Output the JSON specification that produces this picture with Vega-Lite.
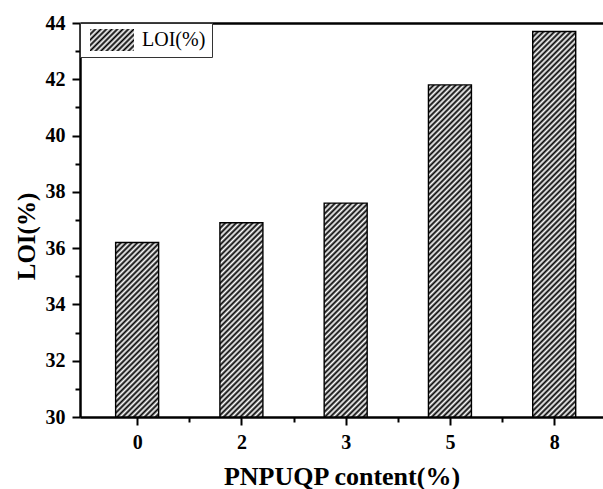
{
  "$schema": "https://vega.github.io/schema/vega-lite/v6.json",
  "width": 523,
  "height": 394,
  "autosize": {"type": "none"},
  "padding": {"left": 80, "top": 23, "right": 0, "bottom": 72},
  "background": "white",
  "config": {"view": {"stroke": null}, "font": "Liberation Serif"},
  "data": {"values": [
    {"content": "0", "idx": 0, "loi": 36.2, "series": "LOI(%)"},
    {"content": "2", "idx": 1, "loi": 36.9, "series": "LOI(%)"},
    {"content": "3", "idx": 2, "loi": 37.6, "series": "LOI(%)"},
    {"content": "5", "idx": 3, "loi": 41.8, "series": "LOI(%)"},
    {"content": "8", "idx": 4, "loi": 43.7, "series": "LOI(%)"}
  ]},
  "resolve": {"axis": {"x": "independent"}},
  "layer": [
    {
      "mark": {"type": "bar", "width": 43, "stroke": "black", "strokeWidth": 1.4},
      "encoding": {
        "x": {
          "field": "idx", "type": "quantitative",
          "scale": {"domain": [-0.5, 4.42], "nice": false, "zero": false},
          "axis": {
            "orient": "bottom",
            "values": [0, 0.5, 1, 1.5, 2, 2.5, 3, 3.5, 4],
            "labelExpr": "datum.value % 1 === 0 ? ['0','2','3','5','8'][datum.value] : ''",
            "grid": false,
            "domainColor": "black", "domainWidth": 2.5,
            "tickColor": "black", "tickWidth": 2,
            "tickSize": {"condition": {"test": "datum.value % 1 === 0", "value": 8}, "value": 5},
            "labelFont": "Liberation Serif", "labelFontSize": 20, "labelFontWeight": "bold", "labelColor": "black",
            "labelPadding": 7, "labelOverlap": false, "labelFlush": false,
            "title": "PNPUQP content(%)",
            "titleFont": "Liberation Serif", "titleFontSize": 26, "titleFontWeight": "bold", "titleColor": "black",
            "titlePadding": 11
          }
        },
        "y": {
          "field": "loi", "type": "quantitative",
          "scale": {"domain": [30, 44], "nice": false, "zero": false},
          "axis": {
            "values": [30, 31, 32, 33, 34, 35, 36, 37, 38, 39, 40, 41, 42, 43, 44],
            "labelExpr": "datum.value % 2 === 0 ? datum.label : ''",
            "grid": false,
            "domainColor": "black", "domainWidth": 2.5,
            "tickColor": "black", "tickWidth": 2,
            "tickSize": {"condition": {"test": "datum.value % 2 === 0", "value": 8}, "value": 5},
            "labelFont": "Liberation Serif", "labelFontSize": 20, "labelFontWeight": "bold", "labelColor": "black",
            "labelPadding": 7, "labelOverlap": false, "labelFlush": false,
            "title": "LOI(%)",
            "titleFont": "Liberation Serif", "titleFontSize": 25, "titleFontWeight": "bold", "titleColor": "black",
            "titlePadding": 6, "titleY": 213
          }
        },
        "y2": {"datum": 30},
        "stroke": {"value": "black"},
        "strokeWidth": {"value": 1.4},
        "opacity": {
          "field": "series", "type": "nominal",
          "scale": {"range": [1]},
          "legend": {
            "title": null, "orient": "top-left", "offset": 0, "padding": 6,
            "strokeColor": "#333", "fillColor": "white",
            "clipHeight": 22, "symbolType": "M-1,-0.5H1V0.5H-1Z", "symbolSize": 1936, "symbolOffset": 3,
            "symbolStrokeColor": "black", "symbolStrokeWidth": 1.5,
            "labelOffset": 7, "labelFont": "Liberation Serif", "labelFontSize": 20, "labelColor": "black",
            "encode": {"symbols": {"update": {"stroke": {"value": "black"}, "strokeWidth": {"value": 1.5}}}}
          }
        },
        "fill": {
          "condition": [
            {"test": "datum.idx === 0", "value": {"gradient": "linear", "x1": 0, "y1": 0, "x2": 0.58584, "y2": 2.37726, "stops": [
{"offset":0,"color":"#000"},{"offset":0.00625,"color":"#fff"},{"offset":0.0125,"color":"#000"},{"offset":0.01875,"color":"#fff"},{"offset":0.025,"color":"#000"},{"offset":0.03125,"color":"#fff"},{"offset":0.0375,"color":"#000"},{"offset":0.04375,"color":"#fff"},{"offset":0.05,"color":"#000"},{"offset":0.05625,"color":"#fff"},{"offset":0.0625,"color":"#000"},{"offset":0.06875,"color":"#fff"},{"offset":0.075,"color":"#000"},{"offset":0.08125,"color":"#fff"},{"offset":0.0875,"color":"#000"},{"offset":0.09375,"color":"#fff"},
{"offset":0.1,"color":"#000"},{"offset":0.10625,"color":"#fff"},{"offset":0.1125,"color":"#000"},{"offset":0.11875,"color":"#fff"},{"offset":0.125,"color":"#000"},{"offset":0.13125,"color":"#fff"},{"offset":0.1375,"color":"#000"},{"offset":0.14375,"color":"#fff"},{"offset":0.15,"color":"#000"},{"offset":0.15625,"color":"#fff"},{"offset":0.1625,"color":"#000"},{"offset":0.16875,"color":"#fff"},{"offset":0.175,"color":"#000"},{"offset":0.18125,"color":"#fff"},{"offset":0.1875,"color":"#000"},{"offset":0.19375,"color":"#fff"},
{"offset":0.2,"color":"#000"},{"offset":0.20625,"color":"#fff"},{"offset":0.2125,"color":"#000"},{"offset":0.21875,"color":"#fff"},{"offset":0.225,"color":"#000"},{"offset":0.23125,"color":"#fff"},{"offset":0.2375,"color":"#000"},{"offset":0.24375,"color":"#fff"},{"offset":0.25,"color":"#000"},{"offset":0.25625,"color":"#fff"},{"offset":0.2625,"color":"#000"},{"offset":0.26875,"color":"#fff"},{"offset":0.275,"color":"#000"},{"offset":0.28125,"color":"#fff"},{"offset":0.2875,"color":"#000"},{"offset":0.29375,"color":"#fff"},
{"offset":0.3,"color":"#000"},{"offset":0.30625,"color":"#fff"},{"offset":0.3125,"color":"#000"},{"offset":0.31875,"color":"#fff"},{"offset":0.325,"color":"#000"},{"offset":0.33125,"color":"#fff"},{"offset":0.3375,"color":"#000"},{"offset":0.34375,"color":"#fff"},{"offset":0.35,"color":"#000"},{"offset":0.35625,"color":"#fff"},{"offset":0.3625,"color":"#000"},{"offset":0.36875,"color":"#fff"},{"offset":0.375,"color":"#000"},{"offset":0.38125,"color":"#fff"},{"offset":0.3875,"color":"#000"},{"offset":0.39375,"color":"#fff"},
{"offset":0.4,"color":"#000"},{"offset":0.40625,"color":"#fff"},{"offset":0.4125,"color":"#000"},{"offset":0.41875,"color":"#fff"},{"offset":0.425,"color":"#000"},{"offset":0.43125,"color":"#fff"},{"offset":0.4375,"color":"#000"},{"offset":0.44375,"color":"#fff"},{"offset":0.45,"color":"#000"},{"offset":0.45625,"color":"#fff"},{"offset":0.4625,"color":"#000"},{"offset":0.46875,"color":"#fff"},{"offset":0.475,"color":"#000"},{"offset":0.48125,"color":"#fff"},{"offset":0.4875,"color":"#000"},{"offset":0.49375,"color":"#fff"},
{"offset":0.5,"color":"#000"}
            ]}},
            {"test": "datum.idx === 1", "value": {"gradient": "linear", "x1": 0, "y1": 0, "x2": 0.47828, "y2": 2.15991, "stops": [
{"offset":0,"color":"#000"},{"offset":0.00625,"color":"#fff"},{"offset":0.0125,"color":"#000"},{"offset":0.01875,"color":"#fff"},{"offset":0.025,"color":"#000"},{"offset":0.03125,"color":"#fff"},{"offset":0.0375,"color":"#000"},{"offset":0.04375,"color":"#fff"},{"offset":0.05,"color":"#000"},{"offset":0.05625,"color":"#fff"},{"offset":0.0625,"color":"#000"},{"offset":0.06875,"color":"#fff"},{"offset":0.075,"color":"#000"},{"offset":0.08125,"color":"#fff"},{"offset":0.0875,"color":"#000"},{"offset":0.09375,"color":"#fff"},
{"offset":0.1,"color":"#000"},{"offset":0.10625,"color":"#fff"},{"offset":0.1125,"color":"#000"},{"offset":0.11875,"color":"#fff"},{"offset":0.125,"color":"#000"},{"offset":0.13125,"color":"#fff"},{"offset":0.1375,"color":"#000"},{"offset":0.14375,"color":"#fff"},{"offset":0.15,"color":"#000"},{"offset":0.15625,"color":"#fff"},{"offset":0.1625,"color":"#000"},{"offset":0.16875,"color":"#fff"},{"offset":0.175,"color":"#000"},{"offset":0.18125,"color":"#fff"},{"offset":0.1875,"color":"#000"},{"offset":0.19375,"color":"#fff"},
{"offset":0.2,"color":"#000"},{"offset":0.20625,"color":"#fff"},{"offset":0.2125,"color":"#000"},{"offset":0.21875,"color":"#fff"},{"offset":0.225,"color":"#000"},{"offset":0.23125,"color":"#fff"},{"offset":0.2375,"color":"#000"},{"offset":0.24375,"color":"#fff"},{"offset":0.25,"color":"#000"},{"offset":0.25625,"color":"#fff"},{"offset":0.2625,"color":"#000"},{"offset":0.26875,"color":"#fff"},{"offset":0.275,"color":"#000"},{"offset":0.28125,"color":"#fff"},{"offset":0.2875,"color":"#000"},{"offset":0.29375,"color":"#fff"},
{"offset":0.3,"color":"#000"},{"offset":0.30625,"color":"#fff"},{"offset":0.3125,"color":"#000"},{"offset":0.31875,"color":"#fff"},{"offset":0.325,"color":"#000"},{"offset":0.33125,"color":"#fff"},{"offset":0.3375,"color":"#000"},{"offset":0.34375,"color":"#fff"},{"offset":0.35,"color":"#000"},{"offset":0.35625,"color":"#fff"},{"offset":0.3625,"color":"#000"},{"offset":0.36875,"color":"#fff"},{"offset":0.375,"color":"#000"},{"offset":0.38125,"color":"#fff"},{"offset":0.3875,"color":"#000"},{"offset":0.39375,"color":"#fff"},
{"offset":0.4,"color":"#000"},{"offset":0.40625,"color":"#fff"},{"offset":0.4125,"color":"#000"},{"offset":0.41875,"color":"#fff"},{"offset":0.425,"color":"#000"},{"offset":0.43125,"color":"#fff"},{"offset":0.4375,"color":"#000"},{"offset":0.44375,"color":"#fff"},{"offset":0.45,"color":"#000"},{"offset":0.45625,"color":"#fff"},{"offset":0.4625,"color":"#000"},{"offset":0.46875,"color":"#fff"},{"offset":0.475,"color":"#000"},{"offset":0.48125,"color":"#fff"},{"offset":0.4875,"color":"#000"},{"offset":0.49375,"color":"#fff"},
{"offset":0.5,"color":"#000"},{"offset":0.50625,"color":"#fff"},{"offset":0.5125,"color":"#000"},{"offset":0.51875,"color":"#fff"},{"offset":0.525,"color":"#000"},{"offset":0.53125,"color":"#fff"},{"offset":0.5375,"color":"#000"},{"offset":0.54375,"color":"#fff"}
            ]}},
            {"test": "datum.idx === 2", "value": {"gradient": "linear", "x1": 0, "y1": 0, "x2": 0.3975, "y2": 1.97722, "stops": [
{"offset":0,"color":"#000"},{"offset":0.00625,"color":"#fff"},{"offset":0.0125,"color":"#000"},{"offset":0.01875,"color":"#fff"},{"offset":0.025,"color":"#000"},{"offset":0.03125,"color":"#fff"},{"offset":0.0375,"color":"#000"},{"offset":0.04375,"color":"#fff"},{"offset":0.05,"color":"#000"},{"offset":0.05625,"color":"#fff"},{"offset":0.0625,"color":"#000"},{"offset":0.06875,"color":"#fff"},{"offset":0.075,"color":"#000"},{"offset":0.08125,"color":"#fff"},{"offset":0.0875,"color":"#000"},{"offset":0.09375,"color":"#fff"},
{"offset":0.1,"color":"#000"},{"offset":0.10625,"color":"#fff"},{"offset":0.1125,"color":"#000"},{"offset":0.11875,"color":"#fff"},{"offset":0.125,"color":"#000"},{"offset":0.13125,"color":"#fff"},{"offset":0.1375,"color":"#000"},{"offset":0.14375,"color":"#fff"},{"offset":0.15,"color":"#000"},{"offset":0.15625,"color":"#fff"},{"offset":0.1625,"color":"#000"},{"offset":0.16875,"color":"#fff"},{"offset":0.175,"color":"#000"},{"offset":0.18125,"color":"#fff"},{"offset":0.1875,"color":"#000"},{"offset":0.19375,"color":"#fff"},
{"offset":0.2,"color":"#000"},{"offset":0.20625,"color":"#fff"},{"offset":0.2125,"color":"#000"},{"offset":0.21875,"color":"#fff"},{"offset":0.225,"color":"#000"},{"offset":0.23125,"color":"#fff"},{"offset":0.2375,"color":"#000"},{"offset":0.24375,"color":"#fff"},{"offset":0.25,"color":"#000"},{"offset":0.25625,"color":"#fff"},{"offset":0.2625,"color":"#000"},{"offset":0.26875,"color":"#fff"},{"offset":0.275,"color":"#000"},{"offset":0.28125,"color":"#fff"},{"offset":0.2875,"color":"#000"},{"offset":0.29375,"color":"#fff"},
{"offset":0.3,"color":"#000"},{"offset":0.30625,"color":"#fff"},{"offset":0.3125,"color":"#000"},{"offset":0.31875,"color":"#fff"},{"offset":0.325,"color":"#000"},{"offset":0.33125,"color":"#fff"},{"offset":0.3375,"color":"#000"},{"offset":0.34375,"color":"#fff"},{"offset":0.35,"color":"#000"},{"offset":0.35625,"color":"#fff"},{"offset":0.3625,"color":"#000"},{"offset":0.36875,"color":"#fff"},{"offset":0.375,"color":"#000"},{"offset":0.38125,"color":"#fff"},{"offset":0.3875,"color":"#000"},{"offset":0.39375,"color":"#fff"},
{"offset":0.4,"color":"#000"},{"offset":0.40625,"color":"#fff"},{"offset":0.4125,"color":"#000"},{"offset":0.41875,"color":"#fff"},{"offset":0.425,"color":"#000"},{"offset":0.43125,"color":"#fff"},{"offset":0.4375,"color":"#000"},{"offset":0.44375,"color":"#fff"},{"offset":0.45,"color":"#000"},{"offset":0.45625,"color":"#fff"},{"offset":0.4625,"color":"#000"},{"offset":0.46875,"color":"#fff"},{"offset":0.475,"color":"#000"},{"offset":0.48125,"color":"#fff"},{"offset":0.4875,"color":"#000"},{"offset":0.49375,"color":"#fff"},
{"offset":0.5,"color":"#000"},{"offset":0.50625,"color":"#fff"},{"offset":0.5125,"color":"#000"},{"offset":0.51875,"color":"#fff"},{"offset":0.525,"color":"#000"},{"offset":0.53125,"color":"#fff"},{"offset":0.5375,"color":"#000"},{"offset":0.54375,"color":"#fff"},{"offset":0.55,"color":"#000"},{"offset":0.55625,"color":"#fff"},{"offset":0.5625,"color":"#000"},{"offset":0.56875,"color":"#fff"},{"offset":0.575,"color":"#000"},{"offset":0.58125,"color":"#fff"},{"offset":0.5875,"color":"#000"}
            ]}},
            {"test": "datum.idx === 3", "value": {"gradient": "linear", "x1": 0, "y1": 0, "x2": 0.16873, "y2": 1.30309, "stops": [
{"offset":0,"color":"#000"},{"offset":0.00625,"color":"#fff"},{"offset":0.0125,"color":"#000"},{"offset":0.01875,"color":"#fff"},{"offset":0.025,"color":"#000"},{"offset":0.03125,"color":"#fff"},{"offset":0.0375,"color":"#000"},{"offset":0.04375,"color":"#fff"},{"offset":0.05,"color":"#000"},{"offset":0.05625,"color":"#fff"},{"offset":0.0625,"color":"#000"},{"offset":0.06875,"color":"#fff"},{"offset":0.075,"color":"#000"},{"offset":0.08125,"color":"#fff"},{"offset":0.0875,"color":"#000"},{"offset":0.09375,"color":"#fff"},
{"offset":0.1,"color":"#000"},{"offset":0.10625,"color":"#fff"},{"offset":0.1125,"color":"#000"},{"offset":0.11875,"color":"#fff"},{"offset":0.125,"color":"#000"},{"offset":0.13125,"color":"#fff"},{"offset":0.1375,"color":"#000"},{"offset":0.14375,"color":"#fff"},{"offset":0.15,"color":"#000"},{"offset":0.15625,"color":"#fff"},{"offset":0.1625,"color":"#000"},{"offset":0.16875,"color":"#fff"},{"offset":0.175,"color":"#000"},{"offset":0.18125,"color":"#fff"},{"offset":0.1875,"color":"#000"},{"offset":0.19375,"color":"#fff"},
{"offset":0.2,"color":"#000"},{"offset":0.20625,"color":"#fff"},{"offset":0.2125,"color":"#000"},{"offset":0.21875,"color":"#fff"},{"offset":0.225,"color":"#000"},{"offset":0.23125,"color":"#fff"},{"offset":0.2375,"color":"#000"},{"offset":0.24375,"color":"#fff"},{"offset":0.25,"color":"#000"},{"offset":0.25625,"color":"#fff"},{"offset":0.2625,"color":"#000"},{"offset":0.26875,"color":"#fff"},{"offset":0.275,"color":"#000"},{"offset":0.28125,"color":"#fff"},{"offset":0.2875,"color":"#000"},{"offset":0.29375,"color":"#fff"},
{"offset":0.3,"color":"#000"},{"offset":0.30625,"color":"#fff"},{"offset":0.3125,"color":"#000"},{"offset":0.31875,"color":"#fff"},{"offset":0.325,"color":"#000"},{"offset":0.33125,"color":"#fff"},{"offset":0.3375,"color":"#000"},{"offset":0.34375,"color":"#fff"},{"offset":0.35,"color":"#000"},{"offset":0.35625,"color":"#fff"},{"offset":0.3625,"color":"#000"},{"offset":0.36875,"color":"#fff"},{"offset":0.375,"color":"#000"},{"offset":0.38125,"color":"#fff"},{"offset":0.3875,"color":"#000"},{"offset":0.39375,"color":"#fff"},
{"offset":0.4,"color":"#000"},{"offset":0.40625,"color":"#fff"},{"offset":0.4125,"color":"#000"},{"offset":0.41875,"color":"#fff"},{"offset":0.425,"color":"#000"},{"offset":0.43125,"color":"#fff"},{"offset":0.4375,"color":"#000"},{"offset":0.44375,"color":"#fff"},{"offset":0.45,"color":"#000"},{"offset":0.45625,"color":"#fff"},{"offset":0.4625,"color":"#000"},{"offset":0.46875,"color":"#fff"},{"offset":0.475,"color":"#000"},{"offset":0.48125,"color":"#fff"},{"offset":0.4875,"color":"#000"},{"offset":0.49375,"color":"#fff"},
{"offset":0.5,"color":"#000"},{"offset":0.50625,"color":"#fff"},{"offset":0.5125,"color":"#000"},{"offset":0.51875,"color":"#fff"},{"offset":0.525,"color":"#000"},{"offset":0.53125,"color":"#fff"},{"offset":0.5375,"color":"#000"},{"offset":0.54375,"color":"#fff"},{"offset":0.55,"color":"#000"},{"offset":0.55625,"color":"#fff"},{"offset":0.5625,"color":"#000"},{"offset":0.56875,"color":"#fff"},{"offset":0.575,"color":"#000"},{"offset":0.58125,"color":"#fff"},{"offset":0.5875,"color":"#000"},{"offset":0.59375,"color":"#fff"},
{"offset":0.6,"color":"#000"},{"offset":0.60625,"color":"#fff"},{"offset":0.6125,"color":"#000"},{"offset":0.61875,"color":"#fff"},{"offset":0.625,"color":"#000"},{"offset":0.63125,"color":"#fff"},{"offset":0.6375,"color":"#000"},{"offset":0.64375,"color":"#fff"},{"offset":0.65,"color":"#000"},{"offset":0.65625,"color":"#fff"},{"offset":0.6625,"color":"#000"},{"offset":0.66875,"color":"#fff"},{"offset":0.675,"color":"#000"},{"offset":0.68125,"color":"#fff"},{"offset":0.6875,"color":"#000"},{"offset":0.69375,"color":"#fff"},
{"offset":0.7,"color":"#000"},{"offset":0.70625,"color":"#fff"},{"offset":0.7125,"color":"#000"},{"offset":0.71875,"color":"#fff"},{"offset":0.725,"color":"#000"},{"offset":0.73125,"color":"#fff"},{"offset":0.7375,"color":"#000"},{"offset":0.74375,"color":"#fff"},{"offset":0.75,"color":"#000"},{"offset":0.75625,"color":"#fff"},{"offset":0.7625,"color":"#000"},{"offset":0.76875,"color":"#fff"},{"offset":0.775,"color":"#000"},{"offset":0.78125,"color":"#fff"},{"offset":0.7875,"color":"#000"},{"offset":0.79375,"color":"#fff"},
{"offset":0.8,"color":"#000"},{"offset":0.80625,"color":"#fff"},{"offset":0.8125,"color":"#000"},{"offset":0.81875,"color":"#fff"},{"offset":0.825,"color":"#000"},{"offset":0.83125,"color":"#fff"},{"offset":0.8375,"color":"#000"},{"offset":0.84375,"color":"#fff"},{"offset":0.85,"color":"#000"},{"offset":0.85625,"color":"#fff"}
            ]}},
            {"test": "datum.idx === 4", "value": {"gradient": "linear", "x1": 0, "y1": 0, "x2": 0.12571, "y2": 1.12718, "stops": [
{"offset":0,"color":"#000"},{"offset":0.00625,"color":"#fff"},{"offset":0.0125,"color":"#000"},{"offset":0.01875,"color":"#fff"},{"offset":0.025,"color":"#000"},{"offset":0.03125,"color":"#fff"},{"offset":0.0375,"color":"#000"},{"offset":0.04375,"color":"#fff"},{"offset":0.05,"color":"#000"},{"offset":0.05625,"color":"#fff"},{"offset":0.0625,"color":"#000"},{"offset":0.06875,"color":"#fff"},{"offset":0.075,"color":"#000"},{"offset":0.08125,"color":"#fff"},{"offset":0.0875,"color":"#000"},{"offset":0.09375,"color":"#fff"},
{"offset":0.1,"color":"#000"},{"offset":0.10625,"color":"#fff"},{"offset":0.1125,"color":"#000"},{"offset":0.11875,"color":"#fff"},{"offset":0.125,"color":"#000"},{"offset":0.13125,"color":"#fff"},{"offset":0.1375,"color":"#000"},{"offset":0.14375,"color":"#fff"},{"offset":0.15,"color":"#000"},{"offset":0.15625,"color":"#fff"},{"offset":0.1625,"color":"#000"},{"offset":0.16875,"color":"#fff"},{"offset":0.175,"color":"#000"},{"offset":0.18125,"color":"#fff"},{"offset":0.1875,"color":"#000"},{"offset":0.19375,"color":"#fff"},
{"offset":0.2,"color":"#000"},{"offset":0.20625,"color":"#fff"},{"offset":0.2125,"color":"#000"},{"offset":0.21875,"color":"#fff"},{"offset":0.225,"color":"#000"},{"offset":0.23125,"color":"#fff"},{"offset":0.2375,"color":"#000"},{"offset":0.24375,"color":"#fff"},{"offset":0.25,"color":"#000"},{"offset":0.25625,"color":"#fff"},{"offset":0.2625,"color":"#000"},{"offset":0.26875,"color":"#fff"},{"offset":0.275,"color":"#000"},{"offset":0.28125,"color":"#fff"},{"offset":0.2875,"color":"#000"},{"offset":0.29375,"color":"#fff"},
{"offset":0.3,"color":"#000"},{"offset":0.30625,"color":"#fff"},{"offset":0.3125,"color":"#000"},{"offset":0.31875,"color":"#fff"},{"offset":0.325,"color":"#000"},{"offset":0.33125,"color":"#fff"},{"offset":0.3375,"color":"#000"},{"offset":0.34375,"color":"#fff"},{"offset":0.35,"color":"#000"},{"offset":0.35625,"color":"#fff"},{"offset":0.3625,"color":"#000"},{"offset":0.36875,"color":"#fff"},{"offset":0.375,"color":"#000"},{"offset":0.38125,"color":"#fff"},{"offset":0.3875,"color":"#000"},{"offset":0.39375,"color":"#fff"},
{"offset":0.4,"color":"#000"},{"offset":0.40625,"color":"#fff"},{"offset":0.4125,"color":"#000"},{"offset":0.41875,"color":"#fff"},{"offset":0.425,"color":"#000"},{"offset":0.43125,"color":"#fff"},{"offset":0.4375,"color":"#000"},{"offset":0.44375,"color":"#fff"},{"offset":0.45,"color":"#000"},{"offset":0.45625,"color":"#fff"},{"offset":0.4625,"color":"#000"},{"offset":0.46875,"color":"#fff"},{"offset":0.475,"color":"#000"},{"offset":0.48125,"color":"#fff"},{"offset":0.4875,"color":"#000"},{"offset":0.49375,"color":"#fff"},
{"offset":0.5,"color":"#000"},{"offset":0.50625,"color":"#fff"},{"offset":0.5125,"color":"#000"},{"offset":0.51875,"color":"#fff"},{"offset":0.525,"color":"#000"},{"offset":0.53125,"color":"#fff"},{"offset":0.5375,"color":"#000"},{"offset":0.54375,"color":"#fff"},{"offset":0.55,"color":"#000"},{"offset":0.55625,"color":"#fff"},{"offset":0.5625,"color":"#000"},{"offset":0.56875,"color":"#fff"},{"offset":0.575,"color":"#000"},{"offset":0.58125,"color":"#fff"},{"offset":0.5875,"color":"#000"},{"offset":0.59375,"color":"#fff"},
{"offset":0.6,"color":"#000"},{"offset":0.60625,"color":"#fff"},{"offset":0.6125,"color":"#000"},{"offset":0.61875,"color":"#fff"},{"offset":0.625,"color":"#000"},{"offset":0.63125,"color":"#fff"},{"offset":0.6375,"color":"#000"},{"offset":0.64375,"color":"#fff"},{"offset":0.65,"color":"#000"},{"offset":0.65625,"color":"#fff"},{"offset":0.6625,"color":"#000"},{"offset":0.66875,"color":"#fff"},{"offset":0.675,"color":"#000"},{"offset":0.68125,"color":"#fff"},{"offset":0.6875,"color":"#000"},{"offset":0.69375,"color":"#fff"},
{"offset":0.7,"color":"#000"},{"offset":0.70625,"color":"#fff"},{"offset":0.7125,"color":"#000"},{"offset":0.71875,"color":"#fff"},{"offset":0.725,"color":"#000"},{"offset":0.73125,"color":"#fff"},{"offset":0.7375,"color":"#000"},{"offset":0.74375,"color":"#fff"},{"offset":0.75,"color":"#000"},{"offset":0.75625,"color":"#fff"},{"offset":0.7625,"color":"#000"},{"offset":0.76875,"color":"#fff"},{"offset":0.775,"color":"#000"},{"offset":0.78125,"color":"#fff"},{"offset":0.7875,"color":"#000"},{"offset":0.79375,"color":"#fff"},
{"offset":0.8,"color":"#000"},{"offset":0.80625,"color":"#fff"},{"offset":0.8125,"color":"#000"},{"offset":0.81875,"color":"#fff"},{"offset":0.825,"color":"#000"},{"offset":0.83125,"color":"#fff"},{"offset":0.8375,"color":"#000"},{"offset":0.84375,"color":"#fff"},{"offset":0.85,"color":"#000"},{"offset":0.85625,"color":"#fff"},{"offset":0.8625,"color":"#000"},{"offset":0.86875,"color":"#fff"},{"offset":0.875,"color":"#000"},{"offset":0.88125,"color":"#fff"},{"offset":0.8875,"color":"#000"},{"offset":0.89375,"color":"#fff"},
{"offset":0.9,"color":"#000"},{"offset":0.90625,"color":"#fff"},{"offset":0.9125,"color":"#000"},{"offset":0.91875,"color":"#fff"},{"offset":0.925,"color":"#000"},{"offset":0.93125,"color":"#fff"},{"offset":0.9375,"color":"#000"},{"offset":0.94375,"color":"#fff"},{"offset":0.95,"color":"#000"},{"offset":0.95625,"color":"#fff"},{"offset":0.9625,"color":"#000"},{"offset":0.96875,"color":"#fff"},{"offset":0.975,"color":"#000"}
            ]}}
          ],
          "value": {"gradient": "linear", "x1": 0, "y1": 0, "x2": 8, "y2": 4, "stops": [
{"offset":0,"color":"#000"},{"offset":0.00625,"color":"#fff"},{"offset":0.0125,"color":"#000"},{"offset":0.01875,"color":"#fff"},{"offset":0.025,"color":"#000"},{"offset":0.03125,"color":"#fff"},{"offset":0.0375,"color":"#000"},{"offset":0.04375,"color":"#fff"},{"offset":0.05,"color":"#000"},{"offset":0.05625,"color":"#fff"},{"offset":0.0625,"color":"#000"},{"offset":0.06875,"color":"#fff"},{"offset":0.075,"color":"#000"},{"offset":0.08125,"color":"#fff"},{"offset":0.0875,"color":"#000"},{"offset":0.09375,"color":"#fff"},
{"offset":0.1,"color":"#000"},{"offset":0.10625,"color":"#fff"},{"offset":0.1125,"color":"#000"},{"offset":0.11875,"color":"#fff"},{"offset":0.125,"color":"#000"},{"offset":0.13125,"color":"#fff"},{"offset":0.1375,"color":"#000"},{"offset":0.14375,"color":"#fff"},{"offset":0.15,"color":"#000"}
          ]}
        }
      }
    },
    {
      "mark": {"type": "point", "opacity": 0},
      "encoding": {
        "x": {
          "field": "idx", "type": "quantitative",
          "scale": {"domain": [-0.5, 4.42], "nice": false, "zero": false},
          "axis": {"orient": "top", "ticks": false, "labels": false, "title": null, "grid": false, "domainWidth": 2.5, "domainColor": "black"}
        }
      }
    }
  ]
}
